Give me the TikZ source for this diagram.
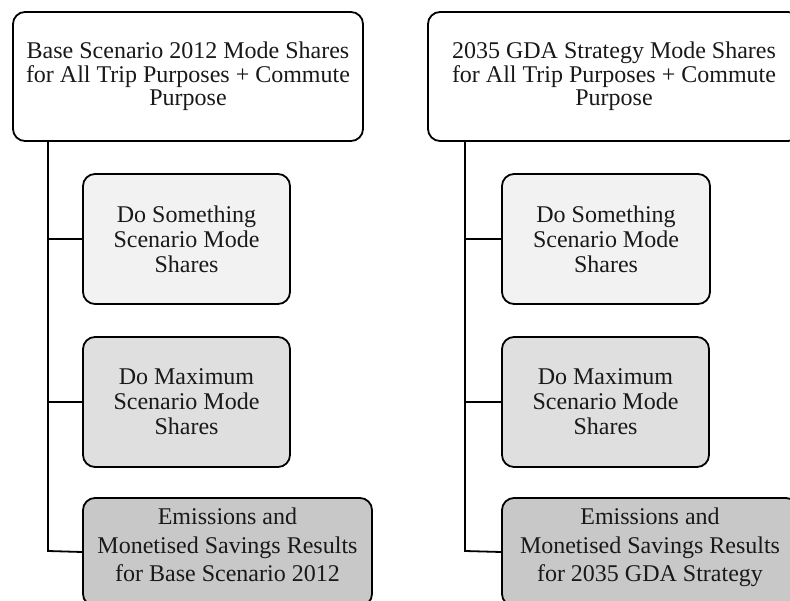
\documentclass[tikz,border=0pt]{standalone}
\usepackage{fontspec}
\setmainfont{Liberation Serif}
\definecolor{fillA}{HTML}{F2F2F2}
\definecolor{fillB}{HTML}{DFDFDF}
\definecolor{fillC}{HTML}{C8C8C8}
\begin{document}
\begin{tikzpicture}[x=1pt,y=-1pt,
  boxbase/.style={draw=black,line width=1.8pt,rounded corners=12pt,inner sep=0pt,align=center,text=black!90},
  topbox/.style={boxbase,fill=white,minimum height=129pt,font=\fontsize{24}{23.5}\selectfont},
  lvlA/.style={boxbase,fill=fillA,minimum width=207pt,minimum height=130pt,font=\fontsize{24}{25}\selectfont},
  lvlB/.style={boxbase,fill=fillB,minimum width=207pt,minimum height=130pt,font=\fontsize{24}{25}\selectfont},
  lvlC/.style={boxbase,fill=fillC,minimum height=108pt,font=\fontsize{24}{28.3}\selectfont},
  conn/.style={draw=black,line width=1.8pt}]
\useasboundingbox (0,0) rectangle (790,601);
\clip (0,0) rectangle (790,601);
% left column
\node[topbox,minimum width=350pt] (lt) at (188,76.5) {Base Scenario 2012 Mode Shares\\for All Trip Purposes + Commute\\Purpose};
\node[lvlA] (l1) at (186.5,239) {Do Something\\Scenario Mode\\Shares};
\node[lvlB] (l2) at (186.5,402) {Do Maximum\\Scenario Mode\\Shares};
\node[lvlC,minimum width=289pt] (l3) at (227.5,552) {Emissions and\\Monetised Savings Results\\for Base Scenario 2012\\[-14pt]};
\coordinate (lj) at (48,551);
\draw[conn] (lt.south -| lj) -- (lj) -- (l3.west);
\draw[conn] (l1.west) -- (l1.west -| lj);
\draw[conn] (l2.west) -- (l2.west -| lj);
% right column
\node[topbox,minimum width=372pt] (rt) at (614,76.5) {2035 GDA Strategy Mode Shares\\for All Trip Purposes + Commute\\Purpose};
\node[lvlA,minimum width=208pt] (r1) at (606,239) {Do Something\\Scenario Mode\\Shares};
\node[lvlB] (r2) at (605.5,402) {Do Maximum\\Scenario Mode\\Shares};
\node[lvlC,minimum width=296pt] (r3) at (650,552) {Emissions and\\Monetised Savings Results\\for 2035 GDA Strategy\\[-14pt]};
\coordinate (rj) at (465,551);
\draw[conn] (rt.south -| rj) -- (rj) -- (r3.west);
\draw[conn] (r1.west) -- (r1.west -| rj);
\draw[conn] (r2.west) -- (r2.west -| rj);
\end{tikzpicture}
\end{document}
